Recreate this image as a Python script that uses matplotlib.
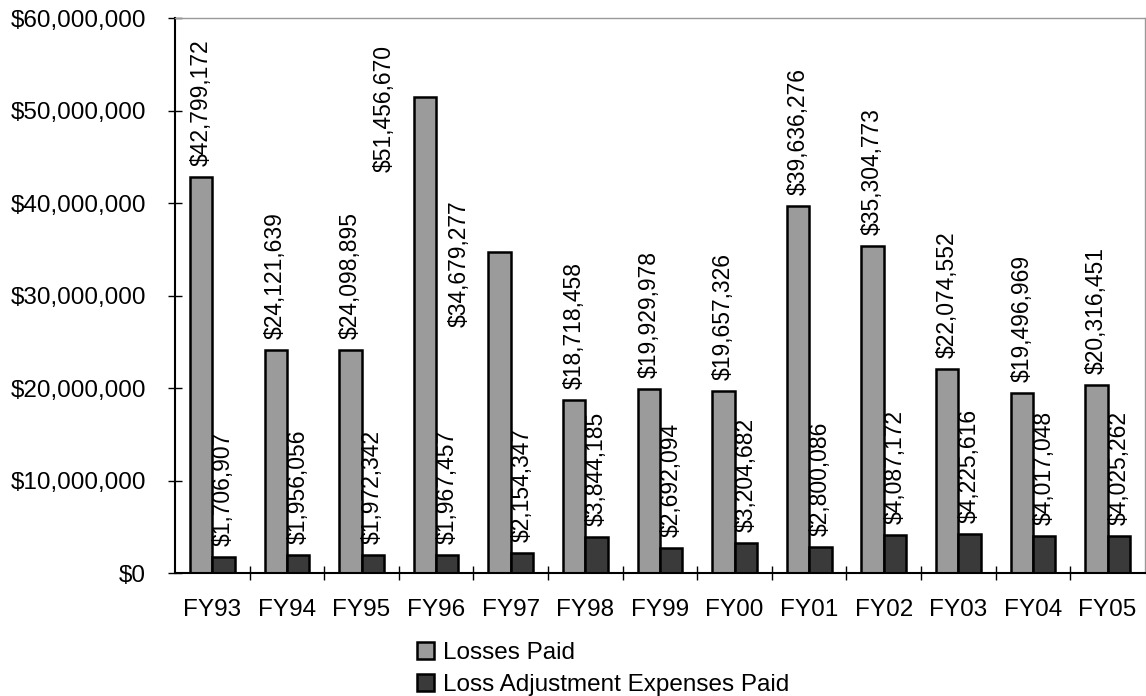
import matplotlib
matplotlib.use("Agg")
import matplotlib.pyplot as plt
from matplotlib.ticker import FuncFormatter

plt.rcParams["font.family"] = ["Liberation Sans", "DejaVu Sans"]

# data
years = ["FY93", "FY94", "FY95", "FY96", "FY97", "FY98", "FY99",
         "FY00", "FY01", "FY02", "FY03", "FY04", "FY05"]
losses_paid = [42799172, 24121639, 24098895, 51456670, 34679277, 18718458, 19929978,
               19657326, 39636276, 35304773, 22074552, 19496969, 20316451]
lae_paid = [1706907, 1956056, 1972342, 1967457, 2154347, 3844185, 2692094,
            3204682, 2800086, 4087172, 4225616, 4017048, 4025262]
# labels the original chart moved to the left of the bar
shifted = ["FY96", "FY97"]

fs = 17.5      # ticks / legend
fs_lab = 16.5  # value labels
w = 0.3
x = list(range(len(years)))

fig = plt.figure(figsize=(11.46, 6.96), dpi=100)
ax = fig.add_axes([0.1527, 0.1767, 0.8463, 0.7973])

b1 = ax.bar([i - w / 2 for i in x], losses_paid, w, color="#9b9b9b",
            edgecolor="black", linewidth=1.8, label="Losses Paid")
b2 = ax.bar([i + w / 2 for i in x], lae_paid, w, color="#3a3a3a",
            edgecolor="black", linewidth=1.8, label="Loss Adjustment Expenses Paid")

fmt = lambda v: "${:,.0f}".format(v)

for i, (rect, v) in enumerate(zip(b1, losses_paid)):
    if years[i] in shifted:
        ax.annotate(fmt(v), (rect.get_x(), v), xytext=(-21, -8),
                    textcoords="offset points", rotation=90,
                    ha="center", va="center", fontsize=fs_lab)
    else:
        ax.annotate(fmt(v), (rect.get_x() + rect.get_width() / 2, v),
                    xytext=(0, 8), textcoords="offset points", rotation=90,
                    ha="center", va="bottom", fontsize=fs_lab)

for rect, v in zip(b2, lae_paid):
    ax.annotate(fmt(v), (rect.get_x() + rect.get_width() / 2, v),
                xytext=(0, 8), textcoords="offset points", rotation=90,
                ha="center", va="bottom", fontsize=fs_lab)

ax.set_xlim(-0.5, len(years) - 0.5)
ax.set_ylim(0, 60000000)
ax.set_yticks(range(0, 60000001, 10000000))
ax.yaxis.set_major_formatter(FuncFormatter(lambda v, p: fmt(v)))

# ticks between categories, labels at centres
ax.set_xticks([i + 0.5 for i in x[:-1]])
ax.set_xticklabels([])
ax.set_xticks(x, minor=True)
ax.set_xticklabels(years, minor=True)
ax.tick_params(axis="x", which="minor", length=0, pad=19, labelsize=fs)
ax.tick_params(axis="x", which="major", direction="inout", length=10, width=1)
ax.tick_params(axis="y", direction="inout", length=10, width=1, pad=16, labelsize=fs)

for s in ["left", "bottom"]:
    ax.spines[s].set_linewidth(1.5)
for s in ["top", "right"]:
    ax.spines[s].set_color("#999999")
    ax.spines[s].set_linewidth(1)

fig.legend(handles=[b1, b2], loc="upper left", bbox_to_anchor=(0.364, 0.077),
           frameon=False, fontsize=fs, handlelength=0.7, handleheight=0.7,
           handletextpad=0.35, labelspacing=0.4, borderaxespad=0, borderpad=0)

fig.savefig("out.png", dpi=100)
